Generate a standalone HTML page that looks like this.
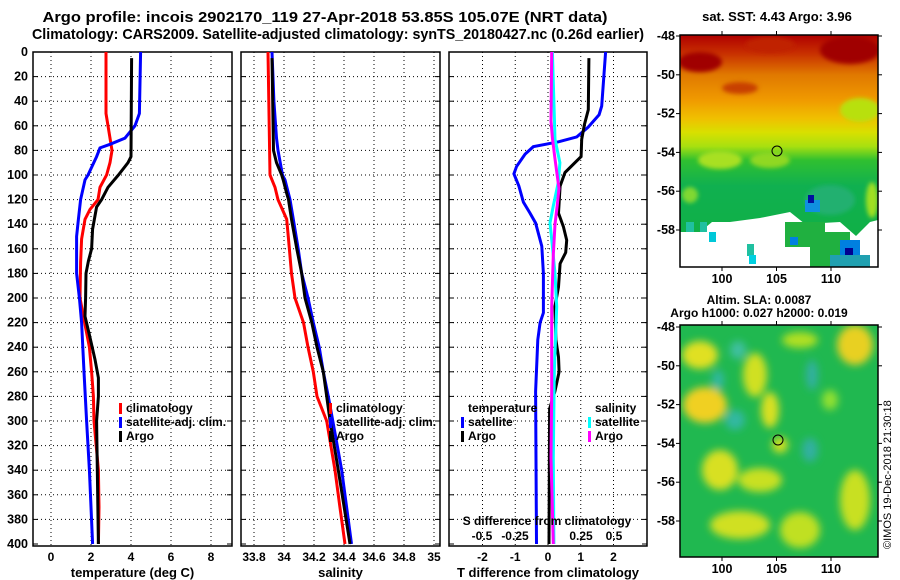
<!DOCTYPE html>
<html><head><meta charset="utf-8">
<style>
html,body{margin:0;padding:0;background:#fff;}
svg{display:block;font-family:"Liberation Sans",sans-serif;font-weight:bold;}
</style></head>
<body>
<svg id="fig" width="900" height="580" viewBox="0 0 900 580">
<defs>
<filter id="blur3" x="-20%" y="-20%" width="140%" height="140%"><feGaussianBlur stdDeviation="4"/></filter>
<filter id="blur2"><feGaussianBlur stdDeviation="2"/></filter>
<clipPath id="clipM1"><rect x="680" y="35" width="198" height="232"/></clipPath>
<clipPath id="clipM2"><rect x="680" y="325" width="198" height="232"/></clipPath>
<linearGradient id="sstGrad" x1="0" y1="0" x2="0" y2="1">
<stop offset="0" stop-color="#b00000"/>
<stop offset="0.08" stop-color="#c83000"/>
<stop offset="0.17" stop-color="#e07800"/>
<stop offset="0.28" stop-color="#f09a00"/>
<stop offset="0.36" stop-color="#f0c000"/>
<stop offset="0.42" stop-color="#d8e000"/>
<stop offset="0.48" stop-color="#a8e010"/>
<stop offset="0.54" stop-color="#30c030"/>
<stop offset="0.65" stop-color="#10b050"/>
<stop offset="1" stop-color="#10b040"/>
</linearGradient>
</defs>

<text x="325" y="22" font-size="15" text-anchor="middle" textLength="565" lengthAdjust="spacingAndGlyphs">Argo profile: incois 2902170_119 27-Apr-2018 53.85S 105.07E (NRT data)</text>
<text x="338" y="39" font-size="15" text-anchor="middle" textLength="612" lengthAdjust="spacingAndGlyphs">Climatology: CARS2009. Satellite-adjusted climatology: synTS_20180427.nc (0.26d earlier)</text>

<g id="panels"></g>

<!-- SST map -->
<g clip-path="url(#clipM1)">
<rect x="680" y="35" width="198" height="232" fill="url(#sstGrad)"/>
<g filter="url(#blur2)">
<ellipse cx="700" cy="62" rx="22" ry="10" fill="#a00000"/>
<ellipse cx="850" cy="50" rx="30" ry="14" fill="#a00000"/>
<ellipse cx="770" cy="45" rx="25" ry="8" fill="#c02000"/>
<ellipse cx="740" cy="88" rx="18" ry="6" fill="#c84000"/>
<ellipse cx="720" cy="160" rx="22" ry="9" fill="#a8e020"/>
<ellipse cx="770" cy="160" rx="20" ry="8" fill="#90d820"/>
<ellipse cx="860" cy="110" rx="20" ry="12" fill="#b8e010"/>
<ellipse cx="830" cy="200" rx="25" ry="15" fill="#20b070"/>
<ellipse cx="690" cy="195" rx="8" ry="8" fill="#80d830"/>
<ellipse cx="872" cy="200" rx="6" ry="18" fill="#a0e020"/>
</g>
<path d="M680,232 L700,232 L712,222 L730,222 L760,218 L790,212 L805,224 L840,222 L856,236 L870,222 L878,220 L878,267 L680,267 Z" fill="#ffffff"/>
<rect x="686" y="222" width="8" height="10" fill="#20c0a0"/>
<rect x="700" y="222" width="7" height="10" fill="#20c0a0"/>
<rect x="709" y="232" width="7" height="10" fill="#00c8d8"/>
<rect x="747" y="244" width="7" height="12" fill="#20c0a0"/>
<rect x="749" y="255" width="7" height="9" fill="#00d0e0"/>
<rect x="785" y="222" width="40" height="25" fill="#20b040"/>
<rect x="810" y="232" width="40" height="35" fill="#20b040"/>
<rect x="805" y="200" width="15" height="12" fill="#1090e0"/>
<rect x="808" y="195" width="6" height="8" fill="#0010a0"/>
<rect x="840" y="240" width="20" height="18" fill="#0080e0"/>
<rect x="845" y="248" width="8" height="8" fill="#000090"/>
<rect x="830" y="255" width="40" height="12" fill="#20a0b0"/>
<rect x="790" y="237" width="8" height="8" fill="#0080e0"/>
</g>
<rect x="680" y="35" width="198" height="232" fill="none" stroke="#000" stroke-width="1.5"/>
<circle cx="777" cy="151" r="5" fill="none" stroke="#000" stroke-width="1"/>
<text x="777" y="21" font-size="13" text-anchor="middle">sat. SST: 4.43 Argo: 3.96</text>

<!-- SLA map -->
<g clip-path="url(#clipM2)">
<rect x="680" y="325" width="198" height="232" fill="#20b850"/>
<g filter="url(#blur3)">
<ellipse cx="700" cy="355" rx="18" ry="14" fill="#e0e020"/>
<ellipse cx="705" cy="405" rx="22" ry="18" fill="#f0d020"/>
<ellipse cx="755" cy="375" rx="12" ry="22" fill="#d0e020"/>
<ellipse cx="770" cy="410" rx="9" ry="18" fill="#d8e020"/>
<ellipse cx="855" cy="345" rx="18" ry="20" fill="#e8d020"/>
<ellipse cx="800" cy="340" rx="18" ry="8" fill="#b0e020"/>
<ellipse cx="720" cy="470" rx="18" ry="20" fill="#d8e020"/>
<ellipse cx="760" cy="480" rx="22" ry="12" fill="#c8e020"/>
<ellipse cx="740" cy="525" rx="30" ry="14" fill="#d0e020"/>
<ellipse cx="800" cy="530" rx="20" ry="18" fill="#c0e020"/>
<ellipse cx="855" cy="500" rx="15" ry="30" fill="#c8e020"/>
<ellipse cx="780" cy="445" rx="8" ry="8" fill="#d0e020"/>
<ellipse cx="718" cy="380" rx="6" ry="10" fill="#30b8a0"/>
<ellipse cx="735" cy="420" rx="10" ry="10" fill="#30b8a0"/>
<ellipse cx="738" cy="350" rx="8" ry="9" fill="#40c0a0"/>
<ellipse cx="812" cy="375" rx="6" ry="15" fill="#30b0a0"/>
<ellipse cx="810" cy="450" rx="8" ry="12" fill="#30b0a0"/>
<ellipse cx="830" cy="400" rx="8" ry="10" fill="#90e030"/>
</g>
</g>
<rect x="680" y="325" width="198" height="232" fill="none" stroke="#000" stroke-width="1.5"/>
<circle cx="778" cy="440" r="5" fill="none" stroke="#000" stroke-width="1"/>
<text x="759" y="304" font-size="12" text-anchor="middle">Altim. SLA: 0.0087</text>
<text x="759" y="317" font-size="12" text-anchor="middle">Argo h1000: 0.027 h2000: 0.019</text>
<text transform="translate(891,549) rotate(-90)" font-size="11" font-weight="normal">©IMOS 19-Dec-2018 21:30:18</text>
<g id="mapaxes"></g>
</svg>

<script>
// ---- data ----
var depthTicks = [0,20,40,60,80,100,120,140,160,180,200,220,240,260,280,300,320,340,360,380,400];
var tempTicks = [0,2,4,6,8];
var salTicks = [33.8,34,34.2,34.4,34.6,34.8,35];
var salTickLabels = ["33.8","34","34.2","34.4","34.6","34.8","35"];
var dTTicks = [-2,-1,0,1,2];
var dSTicks = [-0.5,-0.25,0.25,0.5];
var dSTickLabels = ["-0.5","-0.25","0.25","0.5"];

var tClimDepth = [0,50,60,80,90,100,110,120,128,136,152,171,200,215,240,260,280,300,340,370,400];
var tClimVal   = [2.75,2.75,2.85,3.05,2.95,2.78,2.45,2.35,1.95,1.7,1.53,1.48,1.45,1.62,1.92,2.03,2.12,2.15,2.37,2.4,2.37];
var tSatDepth = [0,50,60,70,75,78,85,100,104,120,136,150,180,200,220,260,300,340,370,400];
var tSatVal   = [4.48,4.42,4.2,3.7,2.95,2.45,2.28,1.85,1.7,1.48,1.37,1.28,1.28,1.42,1.53,1.65,1.78,1.92,2.0,2.08];
var tArgoDepth = [5,85,90,100,110,120,126,144,160,170,180,200,215,230,250,265,280,300,400];
var tArgoVal   = [4.03,4.0,3.85,3.37,2.85,2.53,2.28,2.08,2.03,1.87,1.75,1.73,1.7,1.92,2.2,2.37,2.37,2.28,2.37];

var sClimDepth = [0,100,104,110,120,136,152,180,200,220,240,260,280,300,340,370,400];
var sClimVal   = [33.893,33.907,33.92,33.94,33.96,34.018,34.03,34.05,34.073,34.13,34.16,34.195,34.22,34.285,34.34,34.373,34.407];
var sSatDepth = [0,40,70,80,100,104,120,136,160,180,200,220,240,260,280,300,340,400];
var sSatVal   = [33.92,33.933,33.95,33.96,33.99,34.007,34.04,34.062,34.095,34.118,34.16,34.195,34.235,34.262,34.295,34.325,34.385,34.45];
var sArgoDepth = [5,80,90,100,104,115,120,136,160,180,200,220,240,260,280,300,340,400];
var sArgoVal   = [33.92,33.93,33.95,33.985,33.995,34.018,34.03,34.05,34.085,34.118,34.14,34.185,34.22,34.262,34.285,34.307,34.362,34.44];

var dTSatDepth = [0,44,51,61,69,73,77,83,93,99,109,122,131,139,158,180,212,220,234,276,400];
var dTSatVal   = [1.76,1.64,1.56,1.23,0.88,0.32,-0.45,-0.7,-0.96,-1.04,-0.89,-0.75,-0.55,-0.38,-0.19,-0.14,-0.14,-0.24,-0.31,-0.38,-0.35];
var dTArgoDepth = [5,47,59,71,85,98,109,131,142,153,163,172,191,207,234,248,260,276,290,400];
var dTArgoVal   = [1.25,1.23,1.11,1.03,1.01,0.52,0.37,0.32,0.47,0.57,0.54,0.37,0.32,0.21,0.24,0.32,0.34,0.21,0.05,0.03];
var dSSatDepth = [0,71,90,106,125,139,158,180,207,260,330,400];
var dSSatVal   = [0.033,0.053,0.09,0.078,0.04,0.015,0.033,0.053,0.066,0.048,0.04,0.045];
var dSArgoDepth = [0,56,70,87,111,125,140,165,207,276,330,400];
var dSArgoVal   = [0.028,0.023,0.033,0.053,0.083,0.07,0.053,0.04,0.028,0.028,0.023,0.04];

var lonTicks = [100,105,110];
var latTicks = [-48,-50,-52,-54,-56,-58];

// ---- axes ----
var NS = "http://www.w3.org/2000/svg";
var Y0 = 52, Y1 = 546;
function yD(d){ return Y0 + (d/400)*(Y1-Y0-2); }
function xT(v){ return 51 + 20*v; }
function xS(v){ return 284 + 150*(v-34); }
function xDT(v){ return 548 + 32.75*v; }
function xDS(v){ return 548 + 132*v; }

var root = document.getElementById('panels');
function mk(tag, attrs, parent){
  var e = document.createElementNS(NS, tag);
  for (var k in attrs) e.setAttribute(k, attrs[k]);
  (parent||root).appendChild(e);
  return e;
}
function txt(x,y,s,anchor,size,parent){
  var t = mk('text',{x:x,y:y,'font-size':size||12,'text-anchor':anchor||'middle'},parent);
  t.textContent = s;
  return t;
}

function panel(name, x0, x1, xf, ticks, labels, title, showY){
  var g = mk('g',{});
  
  
  depthTicks.forEach(function(d){
    var y = yD(d);
    if (d>0 && d<400){
      var l = mk('line',{x1:x0,x2:x1,y1:y,y2:y,stroke:'#000','stroke-width':1,'stroke-dasharray':'1,3'},g);
      
      
    }
    mk('line',{x1:x0,x2:x0+5,y1:y,y2:y,stroke:'#000','stroke-width':1},g);
    mk('line',{x1:x1-5,x2:x1,y1:y,y2:y,stroke:'#000','stroke-width':1},g);
    if (showY){
      var t = txt(28,y+4,String(d),'end',12.5,g);
      
      
    }
  });
  ticks.forEach(function(v,i){
    var x = xf(v);
    var l = mk('line',{x1:x,x2:x,y1:Y0,y2:Y1,stroke:'#000','stroke-width':1,'stroke-dasharray':'1,3'},g);
    
    
    var t = txt(x,561,labels[i],'middle',12,g);
    
    
  });
  var fr = mk('rect',{x:x0,y:Y0,width:x1-x0,height:Y1-Y0,fill:'none',stroke:'#000','stroke-width':1.5},g);
  
  
  var tt = txt((x0+x1)/2,577,title,'middle',13,g);
  
  
  return g;
}
function series(g, name, depths, vals, xf, color){
  var pts = depths.map(function(d,i){ return xf(vals[i]).toFixed(1)+','+yD(d).toFixed(1); }).join(' ');
  var p = mk('polyline',{points:pts,fill:'none',stroke:color,'stroke-width':3,'stroke-linejoin':'miter'},g);
  
  
}
function legendItem(g, name, x, y, color, label){
  var r = mk('rect',{x:x,y:y-9,width:3,height:11,fill:color},g);
  
  
  var t = txt(x+7,y,label,'start',12,g);
  
  
}

var g1 = panel('temperature-panel',33,232,xT,tempTicks,tempTicks.map(String),'temperature (deg C)',true);
series(g1,'temp-climatology-line',tClimDepth,tClimVal,xT,'#ff0000');
series(g1,'temp-satellite-line',tSatDepth,tSatVal,xT,'#0000ff');
series(g1,'temp-argo-line',tArgoDepth,tArgoVal,xT,'#000000');
legendItem(g1,'legend-climatology',119,412,'#ff0000','climatology');
legendItem(g1,'legend-satellite-adj',119,426,'#0000ff','satellite-adj. clim.');
legendItem(g1,'legend-argo',119,440,'#000000','Argo');

var g2 = panel('salinity-panel',241,440,xS,salTicks,salTickLabels,'salinity',false);
series(g2,'sal-climatology-line',sClimDepth,sClimVal,xS,'#ff0000');
series(g2,'sal-satellite-line',sSatDepth,sSatVal,xS,'#0000ff');
series(g2,'sal-argo-line',sArgoDepth,sArgoVal,xS,'#000000');
legendItem(g2,'legend-climatology',329,412,'#ff0000','climatology');
legendItem(g2,'legend-satellite-adj',329,426,'#0000ff','satellite-adj. clim.');
legendItem(g2,'legend-argo',329,440,'#000000','Argo');

var g3 = panel('difference-panel',449,647,xDT,dTTicks,dTTicks.map(String),'T difference from climatology',false);
series(g3,'dT-satellite-line',dTSatDepth,dTSatVal,xDT,'#0000ff');
series(g3,'dT-argo-line',dTArgoDepth,dTArgoVal,xDT,'#000000');
series(g3,'dS-satellite-line',dSSatDepth,dSSatVal,xDS,'#00ffff');
series(g3,'dS-argo-line',dSArgoDepth,dSArgoVal,xDS,'#ff00ff');
var lt = txt(468,412,'temperature','start',12,g3);


legendItem(g3,'legend-t-satellite',461,426,'#0000ff','satellite');
legendItem(g3,'legend-t-argo',461,440,'#000000','Argo');
var ls = txt(595,412,'salinity','start',12,g3);


legendItem(g3,'legend-s-satellite',588,426,'#00ffff','satellite');
legendItem(g3,'legend-s-argo',588,440,'#ff00ff','Argo');
var st = txt(547,525,'S difference from climatology','middle',12,g3);


dSTicks.forEach(function(v,i){
  var t = txt(xDS(v),540,dSTickLabels[i],'middle',12,g3);
  
  
});

// map axes
var ma = document.getElementById('mapaxes');
function lonX(v){ return 722 + (v-100)*10.9; }
[[35,267,283,36],[325,557,573,327]].forEach(function(m){
  lonTicks.forEach(function(v){
    var x = lonX(v);
    mk('line',{x1:x,x2:x,y1:m[1],y2:m[1]+4,stroke:'#000'},ma);
    mk('line',{x1:x,x2:x,y1:m[0]-4,y2:m[0],stroke:'#000'},ma);
    var t = txt(x,m[2],String(v),'middle',12.5,ma);
    
    
  });
  latTicks.forEach(function(v){
    var y = m[3] + (-48-v)*19.4;
    mk('line',{x1:676,x2:680,y1:y,y2:y,stroke:'#000'},ma);
    mk('line',{x1:878,x2:882,y1:y,y2:y,stroke:'#000'},ma);
    var t = txt(675,y+4,String(v),'end',12.5,ma);
    
    
  });
});
</script>
</body></html>
